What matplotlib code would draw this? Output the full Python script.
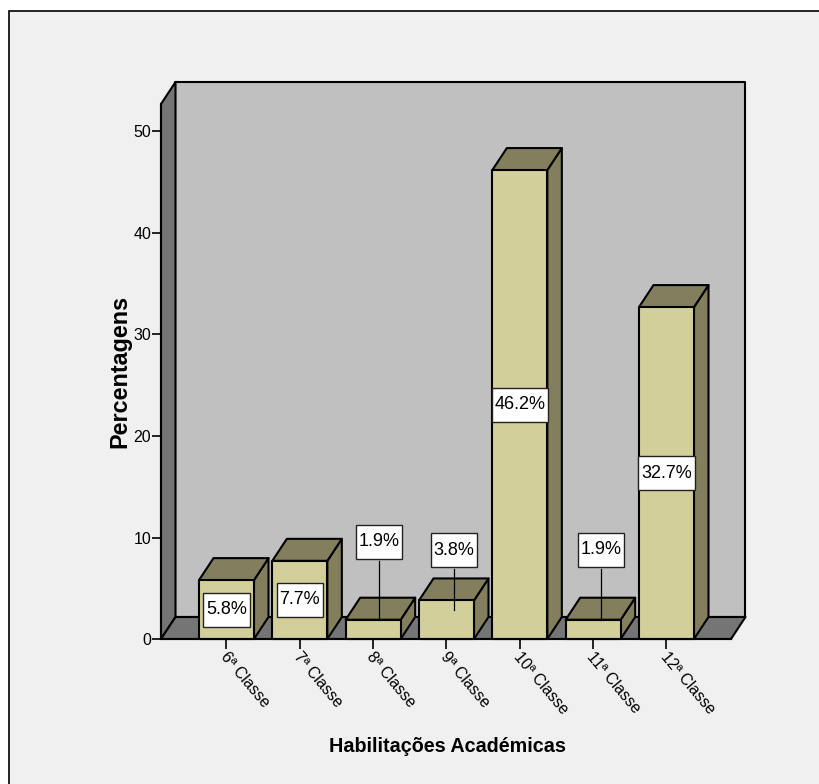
#!/usr/bin/env python3
"""
Bar chart of academic qualifications with a 3D box look
"""

import matplotlib
matplotlib.use('Agg')
import matplotlib.pyplot as plt
from matplotlib.patches import Polygon, Rectangle
from matplotlib.transforms import ScaledTranslation

plt.rcParams['font.family'] = ['Liberation Sans', 'DejaVu Sans']

categories = ['6ª Classe', '7ª Classe', '8ª Classe', '9ª Classe',
              '10ª Classe', '11ª Classe', '12ª Classe']
percentages = [5.8, 7.7, 1.9, 3.8, 46.2, 1.9, 32.7]
y_ticks = [0, 10, 20, 30, 40, 50]

W, H = 820, 784
fig = plt.figure(figsize=(W / 100, H / 100), dpi=100, facecolor='white')

# outer panel, runs off the right and bottom edges
fig.add_artist(Rectangle((9.5 / W, 0 - 0.01), 1.0, 1 - 10.5 / H + 0.01,
                         transform=fig.transFigure, facecolor='#f0f0f0',
                         edgecolor='black', linewidth=1.2, zorder=-1))

# axes cover the front plane of the box
x0, x1 = 161, 731
y_bottom, y_top = 639, 104
ppx = (666.5 - 226.5) / 6      # pixels per category
ppy = (639 - 131.5) / 50       # pixels per percent
ax = fig.add_axes([x0 / W, 1 - y_bottom / H, (x1 - x0) / W, (y_bottom - y_top) / H])
ax.set_xlim((x0 - 226.5) / ppx, (x1 - 226.5) / ppx)
ax.set_ylim(0, (y_bottom - y_top) / ppy)
ax.patch.set_visible(False)

# depth of the 3D effect, converted to data units
dx = 14.5 / ppx
dy = 22 / ppy
xa, xb = ax.get_xlim()
ya, yb = ax.get_ylim()

edge = dict(edgecolor='black', linewidth=1.5, clip_on=False, joinstyle='round')
ax.add_patch(Polygon([(xa + dx, ya + dy), (xb + dx, ya + dy), (xb + dx, yb + dy), (xa + dx, yb + dy)],
                     facecolor='#c0c0c0', zorder=1, **edge))
ax.add_patch(Polygon([(xa, ya), (xa + dx, ya + dy), (xa + dx, yb + dy), (xa, yb)],
                     facecolor='#757575', zorder=1, **edge))
ax.add_patch(Polygon([(xa, ya), (xb, ya), (xb + dx, ya + dy), (xa + dx, ya + dy)],
                     facecolor='#757575', zorder=1, **edge))

# bars, each one a front face plus a top and a side
bar_w = 55 / ppx
for i, v in enumerate(percentages):
    l, r = i - bar_w / 2, i + bar_w / 2
    ax.add_patch(Polygon([(r, 0), (r + dx, dy), (r + dx, v + dy), (r, v)],
                         facecolor='#837f5c', zorder=2, **edge))
    ax.add_patch(Polygon([(l, v), (r, v), (r + dx, v + dy), (l + dx, v + dy)],
                         facecolor='#837f5c', zorder=2, **edge))
    ax.add_patch(Polygon([(l, 0), (r, 0), (r, v), (l, v)],
                         facecolor='#d3cf9a', zorder=2, **edge))

# value labels; the short bars get theirs lifted above with a leader line
# offsets in pixels from the bar centre: (dx, dy, leader end height over the bar top)
lifted = {2: (6, 78, 0), 3: (7.5, 50, 10), 5: (8, 70, 0)}
box_h = 34 / ppy
renderer = fig.canvas.get_renderer()
for i, v in enumerate(percentages):
    cx, cy = i, v / 2
    if i in lifted:
        ox, oy, tail = lifted[i]
        cx = i + ox / ppx
        cy = v + oy / ppy
        ax.plot([cx, cx], [v - tail / ppy, cy - (box_h / 2 + 2 / ppy)], color='black',
                linewidth=0.9, zorder=3, clip_on=False)
    label = ax.text(cx, cy, f'{v}%', ha='center', va='center', fontsize=13, zorder=5, color='black')
    # box follows the text width
    box_w = (label.get_window_extent(renderer).width + 5.5) / ppx
    ax.add_patch(Rectangle((cx - box_w / 2, cy - box_h / 2), box_w, box_h, facecolor='white',
                           edgecolor='#222222', linewidth=1.0, zorder=4, clip_on=False))

for side in ['top', 'right']:
    ax.spines[side].set_visible(False)
for side in ['left', 'bottom']:
    ax.spines[side].set_linewidth(1.5)
    ax.spines[side].set_zorder(3)

ax.set_yticks(y_ticks)
ax.set_xticks(range(len(categories)))
ax.set_xticklabels(categories, rotation=-50, ha='left', va='top', rotation_mode='anchor')
ax.tick_params(axis='y', length=6.5, width=1.2, labelsize=11.5, pad=0.5)
ax.tick_params(axis='x', length=7.5, width=1.2, labelsize=11.3, pad=0)

# nudge the slanted labels to the right of their ticks
nudge = ScaledTranslation(2.5 / 100, 0.5 / 100, fig.dpi_scale_trans)
for tick_label in ax.get_xticklabels():
    tick_label.set_transform(tick_label.get_transform() + nudge)

fig.text(447 / W, 1 - 747 / H, 'Habilitações Académicas', ha='center', va='center',
         fontsize=14.2, fontweight='bold')
fig.text(119.5 / W, 1 - 371 / H, 'Percentagens', ha='center', va='center', rotation=90,
         fontsize=16.8, fontweight='bold')

plt.savefig('out.png', dpi=100)
